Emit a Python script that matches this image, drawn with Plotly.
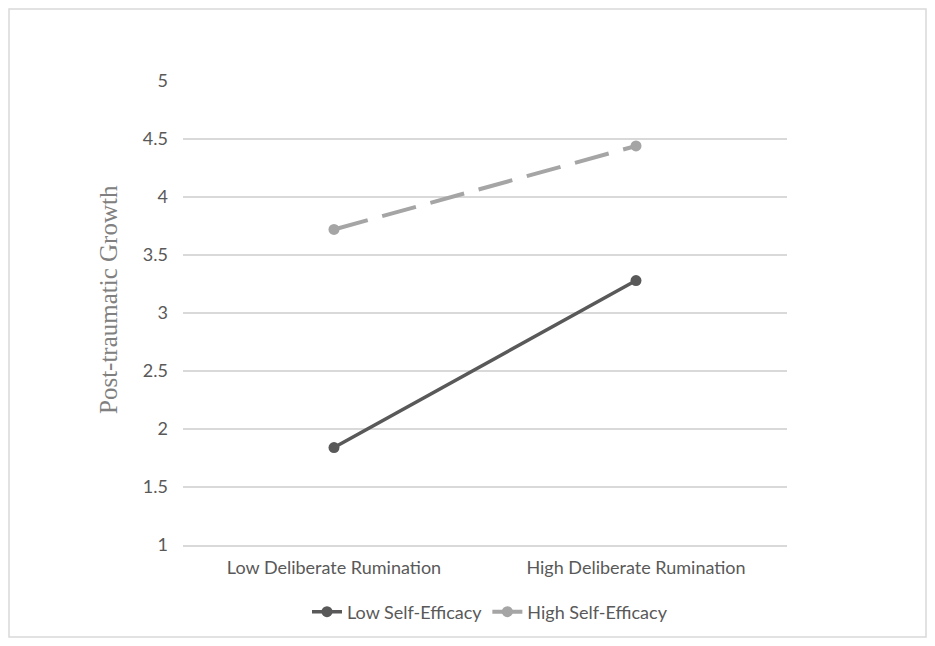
import plotly.graph_objects as go

# values
categories = ["Low Deliberate Rumination", "High Deliberate Rumination"]
low_self_efficacy = [1.84, 3.28]
high_self_efficacy = [3.72, 4.44]
y_ticks = [1, 1.5, 2, 2.5, 3, 3.5, 4, 4.5, 5]

# the page puts the figure 8px in from the window edge,
# so keep the figure inside the window and lay out in window pixels
OFF = 8
W, H = 935 - 2 * OFF, 646 - 2 * OFF
ML, MT = 183 - OFF, 81 - OFF
PW, PH = 604, 464
MR, MB = W - ML - PW, H - MT - PH


def px_x(p):
    return (p - OFF - ML) / PW


def px_y(p):
    return (H - MB - (p - OFF)) / PH


tick_font = dict(family="Lato, Open Sans, sans-serif", size=18, color="#595959")

fig = go.Figure()
fig.add_trace(go.Scatter(
    x=categories, y=low_self_efficacy,
    mode="lines+markers", name="Low Self-Efficacy",
    line=dict(color="#595959", width=3.5),
    marker=dict(size=11, color="#595959"),
))
fig.add_trace(go.Scatter(
    x=categories, y=high_self_efficacy,
    mode="lines+markers", name="High Self-Efficacy",
    line=dict(color="#a5a5a5", width=4, dash="35px,15px"),
    marker=dict(size=11, color="#a5a5a5"),
))

fig.update_layout(
    width=W, height=H,
    margin=dict(l=ML, r=MR, t=MT, b=MB, autoexpand=False),
    paper_bgcolor="white", plot_bgcolor="white",
    showlegend=True,
    legend=dict(
        orientation="h", x=px_x(490), xanchor="center", y=px_y(612), yanchor="middle",
        font=tick_font, tracegroupgap=0,
    ),
    xaxis=dict(
        type="category", range=[-0.5, 1.5], showgrid=False, zeroline=False,
        showline=True, linecolor="#d9d9d9", linewidth=1.5, automargin=False,
        tickfont=tick_font, ticks="", ticklabelstandoff=6,
    ),
    yaxis=dict(
        range=[1, 5], tickvals=y_ticks, ticktext=[f"{v:g}" for v in y_ticks],
        showgrid=True, gridcolor="#d9d9d9", gridwidth=1.5, automargin=False,
        zeroline=False, showline=False, ticks="",
        tickfont=tick_font, ticklabelstandoff=14,
    ),
    annotations=[dict(
        text="Post-traumatic Growth", textangle=-90,
        xref="paper", yref="paper", x=px_x(108), y=px_y(300),
        xanchor="center", yanchor="middle", showarrow=False,
        font=dict(family="Liberation Serif, Times New Roman, serif", size=25, color="#808080"),
    )],
    shapes=[dict(
        type="rect", xref="paper", yref="paper",
        x0=px_x(OFF + 1), x1=px_x(935 - OFF - 1),
        y0=px_y(OFF + H - 1), y1=px_y(OFF + 1),
        line=dict(color="#d9d9d9", width=1.5), fillcolor="rgba(0,0,0,0)",
        layer="below",
    )],
)

fig.write_html("out.html")
